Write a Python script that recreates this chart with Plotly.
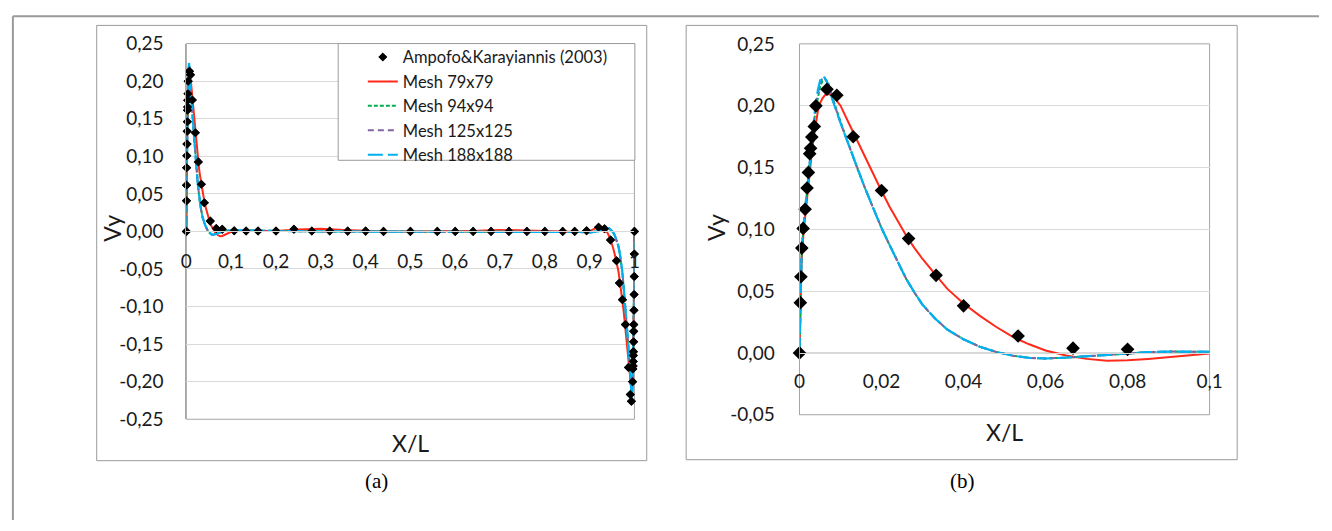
import plotly.graph_objects as go

W, H = 1332, 531

# ---------------- data ----------------
# Ampofo & Karayiannis (2003) experimental Vy profile
exp_x = [0, 0.0002, 0.00034, 0.00056, 0.00088, 0.00136, 0.00184, 0.00216, 0.00248, 0.0027,
         0.003, 0.0036, 0.004, 0.0067, 0.0091, 0.0131, 0.02, 0.0266, 0.0333, 0.04,
         0.0533, 0.0667, 0.08,
         0.1067, 0.1333, 0.16, 0.2, 0.24, 0.28, 0.32, 0.36, 0.4, 0.44, 0.5, 0.56, 0.6,
         0.64, 0.68, 0.72, 0.76, 0.8, 0.84, 0.8667, 0.8933,
         0.92, 0.9333, 0.9467, 0.96, 0.9667, 0.9734, 0.98, 0.9869, 0.9909, 0.9933,
         0.996, 0.9964, 0.997, 0.9973, 0.9975, 0.9978, 0.9981, 0.9984, 0.9986, 0.999,
         0.9993, 0.9996, 0.9998, 1.0]
exp_vy = [0, 0.0407, 0.0616, 0.0848, 0.1007, 0.1162, 0.1334, 0.146, 0.1612, 0.1656,
          0.1746, 0.1832, 0.1999, 0.2133, 0.2084, 0.1749, 0.1314, 0.0925, 0.0628, 0.0381,
          0.0137, 0.0039, 0.0029,
          0.0008, 0.0005, 0.0005, 0.0005, 0.0028, 0.0006, 0.0006, 0.0004, 0.0004, 0.0, 0.0, 0.0, 0.0,
          0.0, 0.0, 0.0, 0.0, 0.0, 0.0, 0.0, 0.0008,
          0.0055, 0.0035, -0.0115, -0.039, -0.0688, -0.0908, -0.124, -0.181, -0.217, -0.226,
          -0.2, -0.183, -0.179, -0.173, -0.165, -0.16, -0.147, -0.133, -0.124, -0.105,
          -0.084, -0.06, -0.03, 0.0]

# numerical profiles, shared abscissa
x_sim = [0, 0.0002, 0.0005, 0.001, 0.0015, 0.002, 0.0025, 0.003, 0.0035, 0.004, 0.0045, 0.005,
         0.0056, 0.0062, 0.007, 0.008, 0.01, 0.012, 0.014, 0.016, 0.018, 0.02, 0.022, 0.024,
         0.026, 0.028, 0.03, 0.033, 0.036, 0.04, 0.044, 0.048, 0.052, 0.056, 0.06, 0.065,
         0.07, 0.075, 0.08, 0.085, 0.09, 0.1,
         0.12, 0.15, 0.2, 0.25, 0.3, 0.35, 0.4, 0.45, 0.5, 0.55, 0.6, 0.65, 0.7, 0.75, 0.8,
         0.85, 0.88,
         0.9, 0.91, 0.915, 0.92, 0.925, 0.93, 0.935, 0.94, 0.944, 0.948, 0.952, 0.956, 0.96,
         0.964, 0.967, 0.97, 0.972, 0.974, 0.976, 0.978, 0.98, 0.982, 0.984, 0.986, 0.988,
         0.99, 0.992, 0.993, 0.9938, 0.9944, 0.995, 0.9955, 0.996, 0.9965, 0.997, 0.9975,
         0.998, 0.9985, 0.999, 0.9995, 0.9998, 1.0]

vy_79 = [0, 0.038, 0.075, 0.098, 0.115, 0.131, 0.147, 0.162, 0.175, 0.187, 0.196, 0.202,
         0.206, 0.2085, 0.2094, 0.2085, 0.2, 0.186, 0.172, 0.158, 0.144, 0.131, 0.118, 0.106,
         0.095, 0.085, 0.076, 0.064, 0.052, 0.04, 0.03, 0.021, 0.013, 0.007, 0.002, -0.002,
         -0.0048, -0.0064, -0.006, -0.0048, -0.0035, -0.0005,
         0.0008, 0.0004, 0.0005, 0.0025, 0.0035, 0.002, 0.0005, 0.0, 0.0, 0.0, 0.0, 0.0008,
         0.002, 0.001, 0.0, -0.001, -0.0008,
         0.0005, 0.0035, 0.0048, 0.006, 0.0064, 0.0048, 0.002, -0.002, -0.007, -0.013, -0.021,
         -0.03, -0.04, -0.052, -0.064, -0.076, -0.085, -0.095, -0.106, -0.118, -0.131, -0.144,
         -0.158, -0.172, -0.186, -0.2, -0.2085, -0.2094, -0.2085, -0.206, -0.202, -0.196,
         -0.187, -0.175, -0.162, -0.147, -0.131, -0.115, -0.098, -0.075, -0.038, 0.0]

vy_94 = [0, 0.04, 0.079, 0.103, 0.12, 0.137, 0.155, 0.171, 0.186, 0.198, 0.208, 0.215,
         0.22, 0.2215, 0.2185, 0.207, 0.187, 0.168, 0.15, 0.133, 0.117, 0.101, 0.087, 0.073,
         0.06, 0.049, 0.039, 0.028, 0.019, 0.011, 0.005, 0.0008, -0.0022, -0.004, -0.0045,
         -0.0038, -0.0027, -0.0014, -0.0003, 0.0006, 0.0011, 0.0015,
         0.0012, 0.0008, 0.0005, 0.0003, 0.0, 0.0, 0.0, 0.0, 0.0, 0.0, 0.0, 0.0, 0.0, 0.0,
         -0.0003, -0.0005, -0.0008,
         -0.0015, -0.0011, -0.0006, 0.0003, 0.0014, 0.0027, 0.0038, 0.0045, 0.004, 0.0022,
         -0.0008, -0.005, -0.011, -0.019, -0.028, -0.039, -0.049, -0.06, -0.073, -0.087,
         -0.101, -0.117, -0.133, -0.15, -0.168, -0.187, -0.207, -0.2185, -0.2215, -0.22,
         -0.215, -0.208, -0.198, -0.186, -0.171, -0.155, -0.137, -0.12, -0.103, -0.079, -0.04, 0.0]

vy_125 = [0, 0.04, 0.08, 0.104, 0.121, 0.139, 0.157, 0.173, 0.189, 0.201, 0.211, 0.218,
          0.2225, 0.222, 0.2175, 0.206, 0.186, 0.168, 0.15, 0.133, 0.117, 0.101, 0.087, 0.073,
          0.06, 0.049, 0.039, 0.028, 0.019, 0.011, 0.005, 0.0008, -0.0022, -0.004, -0.0045,
          -0.0038, -0.0027, -0.0014, -0.0003, 0.0006, 0.0011, 0.0015,
          0.0012, 0.0008, 0.0005, 0.0003, 0.0, 0.0, 0.0, 0.0, 0.0, 0.0, 0.0, 0.0, 0.0, 0.0,
          -0.0003, -0.0005, -0.0008,
          -0.0015, -0.0011, -0.0006, 0.0003, 0.0014, 0.0027, 0.0038, 0.0045, 0.004, 0.0022,
          -0.0008, -0.005, -0.011, -0.019, -0.028, -0.039, -0.049, -0.06, -0.073, -0.087,
          -0.101, -0.117, -0.133, -0.15, -0.168, -0.186, -0.206, -0.2175, -0.222, -0.2225,
          -0.218, -0.211, -0.201, -0.189, -0.173, -0.157, -0.139, -0.121, -0.104, -0.08, -0.04, 0.0]

vy_188 = [0, 0.04, 0.08, 0.104, 0.121, 0.139, 0.157, 0.174, 0.19, 0.203, 0.213, 0.22,
          0.224, 0.2225, 0.217, 0.205, 0.186, 0.168, 0.15, 0.133, 0.117, 0.101, 0.087, 0.073,
          0.06, 0.049, 0.039, 0.028, 0.019, 0.011, 0.005, 0.0008, -0.0022, -0.004, -0.0045,
          -0.0038, -0.0027, -0.0014, -0.0003, 0.0006, 0.0011, 0.0015,
          0.0012, 0.0008, 0.0005, 0.0003, 0.0, 0.0, 0.0, 0.0, 0.0, 0.0, 0.0, 0.0, 0.0, 0.0,
          -0.0003, -0.0005, -0.0008,
          -0.0015, -0.0011, -0.0006, 0.0003, 0.0014, 0.0027, 0.0038, 0.0045, 0.004, 0.0022,
          -0.0008, -0.005, -0.011, -0.019, -0.028, -0.039, -0.049, -0.06, -0.073, -0.087,
          -0.101, -0.117, -0.133, -0.15, -0.168, -0.186, -0.205, -0.217, -0.2225, -0.224,
          -0.22, -0.213, -0.203, -0.19, -0.174, -0.157, -0.139, -0.121, -0.104, -0.08, -0.04, 0.0]

# tick labels (comma decimal separator)
ya_vals = [0.25, 0.2, 0.15, 0.1, 0.05, 0.0, -0.05, -0.1, -0.15, -0.2, -0.25]
ya_text = ["0,25", "0,20", "0,15", "0,10", "0,05", "0,00", "-0,05", "-0,10", "-0,15", "-0,20", "-0,25"]
xa_vals = [0, 0.1, 0.2, 0.3, 0.4, 0.5, 0.6, 0.7, 0.8, 0.9, 1.0]
xa_text = ["0", "0,1", "0,2", "0,3", "0,4", "0,5", "0,6", "0,7", "0,8", "0,9", "1"]
yb_vals = [0.25, 0.2, 0.15, 0.1, 0.05, 0.0, -0.05]
yb_text = ["0,25", "0,20", "0,15", "0,10", "0,05", "0,00", "-0,05"]
xb_vals = [0, 0.02, 0.04, 0.06, 0.08, 0.1]
xb_text = ["0", "0,02", "0,04", "0,06", "0,08", "0,1"]

series = [
    ("Mesh 79x79", vy_79, "#ff2a1a", "solid", 2),
    ("Mesh 94x94", vy_94, "#00b050", "4px,2px", 2),
    ("Mesh 125x125", vy_125, "#8064a2", "6px,4px", 2),
    ("Mesh 188x188", vy_188, "#00b0f0", "15px,5px", 2.2),
]

# ---------------- helpers ----------------
def px(x):
    return x / W

def py(y):
    return 1 - y / H

FONT = "Lato"
TXT = "#1a1a1a"
GRID = "#d9d9d9"
BORDER = "#a6a6a6"

fig = go.Figure()

# zoomed panel subset of the measurements
exp_bx = [x for x in exp_x if x <= 0.1]
exp_by = [v for x, v in zip(exp_x, exp_vy) if x <= 0.1]

# panel (a)
fig.add_trace(go.Scatter(x=exp_x, y=exp_vy, mode="markers", name="Ampofo&Karayiannis (2003)",
                         marker=dict(symbol="diamond", size=7, color="black"),
                         cliponaxis=False, xaxis="x", yaxis="y"))
for name, vy, col, dash, lw in series:
    fig.add_trace(go.Scatter(x=x_sim, y=vy, mode="lines", name=name,
                             line=dict(color=col, dash=dash, width=lw),
                             xaxis="x", yaxis="y"))
fig.add_trace(go.Scatter(x=exp_x, y=exp_vy, mode="markers", showlegend=False,
                         marker=dict(symbol="diamond", size=7, color="black"),
                         cliponaxis=False, xaxis="x", yaxis="y"))

# panel (b)
for name, vy, col, dash, lw in series:
    fig.add_trace(go.Scatter(x=x_sim, y=vy, mode="lines", name=name, showlegend=False,
                             line=dict(color=col, dash=dash, width=lw),
                             xaxis="x2", yaxis="y2"))
fig.add_trace(go.Scatter(x=exp_bx, y=exp_by, mode="markers", showlegend=False,
                         marker=dict(symbol="diamond", size=10.5, color="black"),
                         cliponaxis=False, xaxis="x2", yaxis="y2"))

# plot-area geometry (pixels)
A_L, A_R, A_T, A_B = 183, 637.5, 33, 425.7
B_L, B_R, B_T, B_B = 805, 1221, 33.3, 421
a_zero = A_T + (A_B - A_T) * 0.25 / 0.5
b_zero = B_T + (B_B - B_T) * 0.25 / 0.3

tickfont = dict(family=FONT, size=19, color=TXT)

fig.update_layout(
    width=W, height=H,
    margin=dict(l=0, r=0, t=0, b=0),
    paper_bgcolor="white", plot_bgcolor="white",
    showlegend=True,
    xaxis=dict(domain=[px(A_L), px(A_R)], range=[0, 1], anchor="free", position=py(a_zero),
               tickvals=xa_vals, ticktext=xa_text, tickfont=tickfont, showgrid=False,
               showline=True, linecolor=GRID, linewidth=1, ticks="", zeroline=False,
               ticklabelstandoff=13),
    yaxis=dict(domain=[py(A_B), py(A_T)], range=[-0.25, 0.25], anchor="x",
               tickvals=ya_vals, ticktext=ya_text, tickfont=tickfont, showgrid=True,
               gridcolor=GRID, gridwidth=1, showline=True, linecolor=BORDER, linewidth=1,
               ticks="", zeroline=False, ticklabelstandoff=18),
    xaxis2=dict(domain=[px(B_L), px(B_R)], range=[0, 0.1], anchor="free", position=py(b_zero),
                tickvals=xb_vals, ticktext=xb_text, tickfont=tickfont, showgrid=False,
                showline=True, linecolor=GRID, linewidth=1, ticks="", zeroline=False,
                ticklabelstandoff=11),
    yaxis2=dict(domain=[py(B_B), py(B_T)], range=[-0.05, 0.25], anchor="x2",
                tickvals=yb_vals, ticktext=yb_text, tickfont=tickfont, showgrid=True,
                gridcolor=GRID, gridwidth=1, showline=True, linecolor=BORDER, linewidth=1,
                ticks="", zeroline=False, ticklabelstandoff=20),
    legend=dict(x=px(362), y=py(29), xanchor="left", yanchor="top",
                bgcolor="rgba(0,0,0,0)", borderwidth=0,
                font=dict(family=FONT, size=16.5, color=TXT), tracegroupgap=0),
)

shapes = []
# outer figure frame
shapes.append(dict(type="line", xref="paper", yref="paper", x0=px(7), x1=1, y0=py(4.5), y1=py(4.5),
                   line=dict(color="#9a9a9a", width=2)))
shapes.append(dict(type="line", xref="paper", yref="paper", x0=px(7), x1=px(7), y0=py(4.5), y1=0,
                   line=dict(color="#9a9a9a", width=2)))
# chart areas
for x0, y0, x1, y1 in [(92, 14, 650, 469), (690, 14, 1249, 468)]:
    shapes.append(dict(type="rect", xref="paper", yref="paper", x0=px(x0), x1=px(x1),
                       y0=py(y1), y1=py(y0), line=dict(color="#9a9a9a", width=1)))
# plot area borders
for xr, yr in [("x", "y"), ("x2", "y2")]:
    shapes.append(dict(type="rect", xref=xr + " domain", yref=yr + " domain", x0=0, x1=1, y0=0, y1=1,
                       line=dict(color=BORDER, width=1), layer="below"))
# legend box
shapes.append(dict(type="rect", xref="paper", yref="paper", x0=px(337), x1=px(638),
                   y0=py(155), y1=py(33), fillcolor="white", line=dict(color="#9a9a9a", width=1),
                   layer="above"))
fig.update_layout(shapes=shapes)


def label(text, x, y, size, family=FONT, angle=0, color=TXT):
    return dict(text=text, x=px(x), y=py(y), xref="paper", yref="paper", showarrow=False,
                xanchor="center", yanchor="middle", textangle=angle,
                font=dict(family=family, size=size, color=color))


ann = [
    label("Vy", 108, 226, 23, angle=-90),
    label("Vy", 721, 225, 23, angle=-90),
    label("X/L", (A_L + A_R) / 2, 450, 23),
    label("X/L", (B_L + B_R) / 2, 439, 23),
    label("(a)", 376, 490, 21, family="Liberation Serif", color="black"),
    label("(b)", 970, 490, 21, family="Liberation Serif", color="black"),
]
fig.update_layout(annotations=ann)

fig.write_html("out.html")
